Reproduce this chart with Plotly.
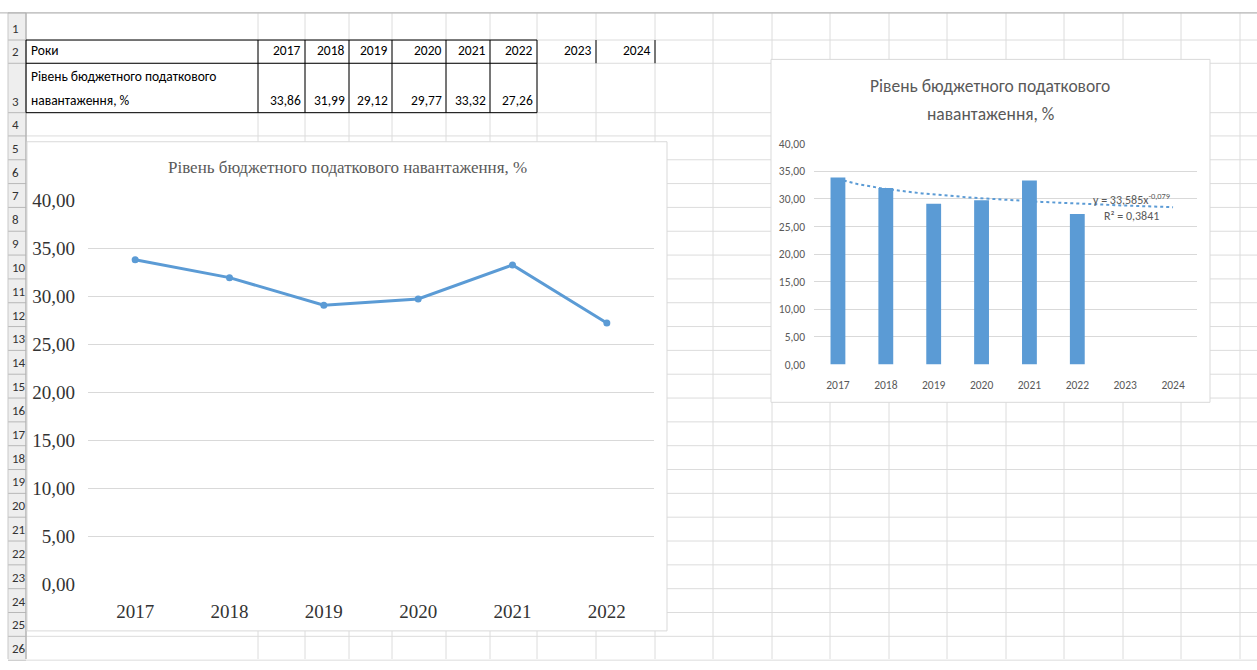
import numpy as np
import plotly.graph_objects as go

W, H = 1257, 670

# ---------------- data ----------------
years = ["2017", "2018", "2019", "2020", "2021", "2022"]
all_years = ["2017", "2018", "2019", "2020", "2021", "2022", "2023", "2024"]
values = [33.86, 31.99, 29.12, 29.77, 33.32, 27.26]
y_ticks = [0, 5, 10, 15, 20, 25, 30, 35, 40]
title_full = "Рівень бюджетного податкового навантаження, %"
title_line1 = "Рівень бюджетного податкового"
title_line2 = "навантаження, %"
row2_label = "Роки"
row3_label1 = "Рівень бюджетного податкового"
row3_label2 = "навантаження, %"
trend_eq = "y = 33,585x<sup>-0,079</sup>"
trend_r2 = "R² = 0,3841"

BLUE = "#5b9bd5"
SERIF = "Liberation Serif, Times New Roman, serif"
NARROW = "Carlito, Liberation Sans Narrow, DejaVu Sans Condensed, Arial Narrow, sans-serif"


def px(x):
    return x / W


def py(y):
    return 1 - y / H


shapes = []
annotations = []


def hline(y, x0, x1, color, width=1):
    shapes.append(dict(type="line", xref="paper", yref="paper", x0=px(x0), x1=px(x1),
                       y0=py(y), y1=py(y), line=dict(color=color, width=width), layer="below"))


def vline(x, y0, y1, color, width=1):
    shapes.append(dict(type="line", xref="paper", yref="paper", x0=px(x), x1=px(x),
                       y0=py(y0), y1=py(y1), line=dict(color=color, width=width), layer="below"))


def text(x, y, s, size, color="#000000", family=NARROW, xanchor="left", yanchor="middle"):
    annotations.append(dict(x=px(x), y=py(y), xref="paper", yref="paper", text=s, showarrow=False,
                            xanchor=xanchor, yanchor=yanchor,
                            font=dict(size=size, color=color, family=family)))


# ---------------- spreadsheet grid ----------------
GRID = "#dcdcdc"
row_edges = [3, 31, 55, 106, 130] + [130 + 24.6 * i for i in range(1, 23)]
col_edges = [26, 258, 305, 349, 392, 446, 490, 537, 596, 655, 713, 772, 830, 889, 947,
             1006, 1064, 1123, 1181, 1240]

# row header band
shapes.append(dict(type="rect", xref="paper", yref="paper", x0=px(8), x1=px(26), y0=py(3), y1=py(670),
                   fillcolor="#eeeeee", line=dict(width=0), layer="below"))
for y in row_edges:
    hline(y, 26, W, GRID)
    hline(y, 8, 26, "#b8b8b8")
for x in col_edges:
    vline(x, 3, 670, GRID)
vline(26, 3, 670, "#a0a0a0")
vline(8, 3, 670, "#c8c8c8")
hline(3, 0, W, "#b0b0b0")

# row numbers
for i in range(26):
    bottom = row_edges[i + 1] if i + 1 < len(row_edges) else 671
    text(10, bottom - 2, str(i + 1), 13, "#333333", NARROW, "left", "bottom")

# ---------------- data table ----------------
cell_right = [305, 349, 392, 446, 490, 537, 596, 655]
for x_r, yr in zip(cell_right, all_years):
    text(x_r - 2, 53, yr, 13.5, "#000000", NARROW, "right", "bottom")
for x_r, v in zip(cell_right, values):
    text(x_r - 2, 104, f"{v:.2f}".replace(".", ","), 13.5, "#000000", NARROW, "right", "bottom")
text(29, 53, row2_label, 13.5, "#000000", NARROW, "left", "bottom")
text(29, 79, row3_label1, 13.5, "#000000", NARROW, "left", "bottom")
text(29, 104, row3_label2, 13.5, "#000000", NARROW, "left", "bottom")

# table borders
hline(31, 26, 537, "#000000")
hline(55, 26, 537, "#000000")
hline(106, 26, 537, "#000000")
for x in [26, 258, 305, 349, 392, 446, 490, 537]:
    vline(x, 31, 106, "#000000")
vline(596, 31, 55, "#000000")
vline(655, 31, 55, "#000000")

# ---------------- chart frames ----------------
shapes.append(dict(type="rect", xref="paper", yref="paper", x0=px(27), x1=px(667), y0=py(136), y1=py(641),
                   fillcolor="#ffffff", line=dict(color="#d9d9d9", width=1), layer="below"))
shapes.append(dict(type="rect", xref="paper", yref="paper", x0=px(771), x1=px(1210), y0=py(51), y1=py(405),
                   fillcolor="#ffffff", line=dict(color="#d9d9d9", width=1), layer="below"))

# titles
text(347, 163, title_full, 17, "#595959", SERIF, "center", "middle")
text(990, 78, title_line1, 17.5, "#595959", NARROW, "center", "middle")
text(990, 107, title_line2, 17.5, "#595959", NARROW, "center", "middle")

# trend label
text(1091, 195, trend_eq, 12, "#595959", NARROW, "left", "middle")
text(1102, 213, trend_r2, 12, "#595959", NARROW, "left", "middle")

# ---------------- traces ----------------
fig = go.Figure()
x_idx = list(range(len(years)))
fig.add_trace(go.Scatter(x=x_idx, y=values, mode="lines+markers", xaxis="x", yaxis="y",
                         line=dict(color=BLUE, width=3), marker=dict(color=BLUE, size=7),
                         hoverinfo="skip"))
fig.add_trace(go.Bar(x=x_idx, y=values, xaxis="x2", yaxis="y2", marker=dict(color=BLUE, line=dict(width=0)),
                     hoverinfo="skip"))

# power trendline fitted from the data (ln y = ln a + b ln x)
pos = np.arange(1, len(values) + 1)
b, ln_a = np.polyfit(np.log(pos), np.log(values), 1)
xs = np.linspace(0, len(all_years) - 1, 200)
ys = np.exp(ln_a) * (xs + 1) ** b
fig.add_trace(go.Scatter(x=xs, y=ys, mode="lines", xaxis="x2", yaxis="y2",
                         line=dict(color=BLUE, width=2, dash="dot"), hoverinfo="skip"))

fig.update_layout(
    width=W, height=H, autosize=False,
    margin=dict(l=0, r=0, t=0, b=0),
    paper_bgcolor="#ffffff", plot_bgcolor="rgba(0,0,0,0)",
    showlegend=False, separators=", ", bargap=0.69,
    shapes=shapes, annotations=annotations,
    xaxis=dict(domain=[px(88), px(654)], range=[-0.5, len(years) - 0.5],
               tickvals=x_idx, ticktext=years, showgrid=False, zeroline=False, showline=False,
               tickfont=dict(family=SERIF, size=19, color="#333333"), ticklabelstandoff=14,
               fixedrange=True),
    yaxis=dict(domain=[py(593), py(197)], range=[0, 40], tickvals=y_ticks, tickformat=".2f",
               showgrid=True, gridcolor="#d9d9d9", gridwidth=1, zeroline=False, showline=False,
               tickfont=dict(family=SERIF, size=19, color="#333333"), ticklabelstandoff=12,
               fixedrange=True),
    xaxis2=dict(domain=[px(814), px(1197)], range=[-0.5, len(all_years) - 0.5],
                tickvals=list(range(len(all_years))), ticktext=all_years, showgrid=False,
                zeroline=False, showline=False, anchor="y2",
                tickfont=dict(family=NARROW, size=11.5, color="#595959"), ticklabelstandoff=12,
                fixedrange=True),
    yaxis2=dict(domain=[py(366), py(138)], range=[0, 40], tickvals=y_ticks, tickformat=".2f",
                showgrid=True, gridcolor="#d9d9d9", gridwidth=1, zeroline=False, showline=False,
                anchor="x2",
                tickfont=dict(family=NARROW, size=11.5, color="#595959"), ticklabelstandoff=8,
                fixedrange=True),
)

fig.write_html("out.html")
